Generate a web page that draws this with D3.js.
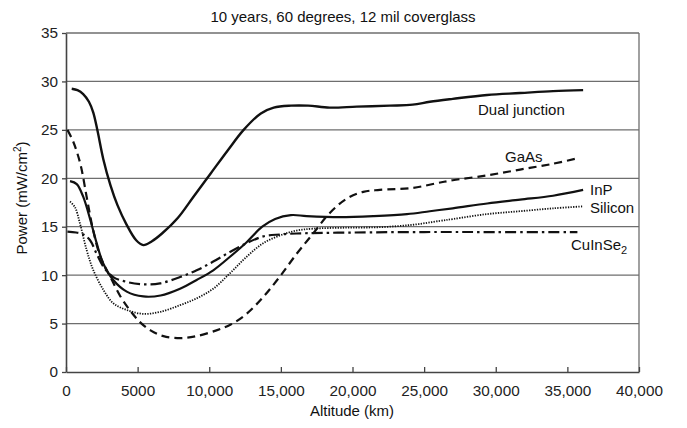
<!DOCTYPE html>
<html><head><meta charset="utf-8">
<script src="https://cdn.jsdelivr.net/npm/d3@7/dist/d3.min.js"></script>
<style>body{margin:0;background:#fff;font-family:"Liberation Sans",Arial,sans-serif;}</style>
</head><body><svg id="c" width="687" height="428"></svg>
<script>
const title = "10 years, 60 degrees, 12 mil coverglass";
const xTicks = [0,5000,10000,15000,20000,25000,30000,35000,40000];
const yTicks = [0,5,10,15,20,25,30,35];
const seriesNames = ["Dual junction","GaAs","InP","Silicon","CuInSe2"];
const dualJunction = [[400,29.25],[800,29.1],[1200,28.7],[1600,27.9],[1900,26.8],[2200,24.9],[2600,22.0],[3100,19.3],[3600,17.2],[4200,15.3],[4900,13.6],[5400,13.1],[6000,13.5],[6700,14.3],[7800,15.9],[8900,18.1],[10100,20.5],[11300,22.9],[12400,25.0],[13600,26.7],[14500,27.3],[15700,27.5],[16900,27.5],[18400,27.3],[20300,27.4],[22600,27.5],[24200,27.6],[25400,27.9],[27000,28.2],[29400,28.6],[31700,28.8],[34000,29.0],[36100,29.1]];
const gaAs = [[100,25.0],[500,23.8],[1000,21.5],[1440,18.1],[1900,14.6],[2400,11.9],[3100,9.8],[3800,7.8],[4500,6.3],[5200,5.1],[5900,4.3],[6800,3.7],[8000,3.5],[9100,3.7],[10500,4.3],[11500,4.9],[12600,6.0],[13800,7.8],[14900,9.8],[16100,12.2],[17250,14.3],[18400,16.4],[19600,17.9],[20750,18.6],[21900,18.8],[24200,19.0],[25900,19.5],[27000,19.8],[29400,20.3],[31700,20.9],[34000,21.5],[35800,22.1]];
const inP = [[280,19.7],[750,19.4],[1200,18.1],[1700,15.7],[2140,13.3],[2600,11.2],[3300,9.5],[4240,8.3],[5400,7.8],[6600,7.9],[7960,8.6],[9120,9.5],[10280,10.5],[11450,11.9],[12610,13.4],[13700,15.0],[14600,15.8],[15700,16.2],[16800,16.1],[19100,16.0],[21450,16.1],[23800,16.3],[25400,16.6],[27000,16.9],[29400,17.4],[31700,17.8],[34000,18.2],[36100,18.8]];
const silicon = [[280,17.6],[630,17.0],[980,15.3],[1440,12.6],[1910,10.5],[2600,8.5],[3300,7.1],[4240,6.4],[5400,6.0],[6560,6.2],[7960,6.9],[9120,7.6],[10280,8.6],[11450,10.2],[12610,11.9],[13770,13.3],[14940,14.1],[16100,14.6],[17260,14.8],[19500,14.9],[21900,14.95],[24200,15.2],[26100,15.6],[27040,15.8],[29370,16.3],[31690,16.6],[34020,16.9],[36100,17.1]];
const cuInSe2 = [[100,14.5],[700,14.4],[1210,14.2],[1680,13.6],[2140,12.2],[2600,10.9],[3300,9.8],[4240,9.3],[5400,9.05],[6560,9.15],[7960,9.8],[9120,10.5],[10280,11.4],[11450,12.4],[12610,13.3],[13770,14.0],[14940,14.2],[16100,14.3],[20000,14.4],[25000,14.45],[30000,14.45],[35700,14.45]];
const labelSub = "2";

const svg = d3.select("#c");
const L=66,R=639,T=33,B=372;
const x = d3.scaleLinear().domain([0,40000]).range([L,R]);
const y = d3.scaleLinear().domain([0,35]).range([B,T]);
const font = "'Liberation Sans', Arial, sans-serif";

svg.append("g").selectAll("line").data(yTicks.filter(d=>d>0)).join("line")
  .attr("x1",L).attr("x2",R).attr("y1",d=>y(d)).attr("y2",d=>y(d))
  .attr("stroke","#6e6e6e").attr("stroke-width",1.3);
svg.append("line").attr("x1",R).attr("x2",R).attr("y1",T).attr("y2",B).attr("stroke","#6e6e6e").attr("stroke-width",1.3);

const fmt = d => d===0?"0":(d<10000?String(d):d3.format(",")(d));
const xAxis = svg.append("g").attr("transform",`translate(0,${B})`)
  .call(d3.axisBottom(x).tickValues(xTicks).tickFormat(fmt).tickSizeInner(-5).tickSizeOuter(0).tickPadding(13));
const yAxis = svg.append("g").attr("transform",`translate(${L},0)`)
  .call(d3.axisLeft(y).tickValues(yTicks).tickSizeInner(4).tickSizeOuter(0).tickPadding(4));
[xAxis,yAxis].forEach(a=>{
  a.selectAll("path").attr("stroke","#444").attr("stroke-width",1.6);
  a.selectAll("line").attr("stroke","#444").attr("stroke-width",1.3);
  a.selectAll("text").attr("font-family",font).attr("font-size",15.3).attr("fill","#222");
});

const line = d3.line().x(d=>x(d[0])).y(d=>y(d[1])).curve(d3.curveCatmullRom.alpha(0.5));
const styles = [
  {data:dualJunction, dash:null, w:2.4},
  {data:gaAs, dash:"8,5", w:2.2},
  {data:inP, dash:null, w:2.2},
  {data:silicon, dash:"1.3,1.3", w:1.8},
  {data:cuInSe2, dash:"11,4,2.5,4", w:2.2}
];
styles.forEach(s=>{
  svg.append("path").attr("d",line(s.data)).attr("fill","none").attr("stroke","#111")
    .attr("stroke-width",s.w).attr("stroke-dasharray",s.dash).attr("stroke-linejoin","round");
});

const lab = (t,xx,yy)=>svg.append("text").attr("x",xx).attr("y",yy).attr("font-family",font).attr("font-size",15).attr("fill","#111").text(t);
lab(seriesNames[0],478,115);
lab(seriesNames[1],505,162);
lab(seriesNames[2],590,195);
lab(seriesNames[3],590,213);
const cu = lab("CuInSe",571,250);
cu.append("tspan").attr("font-size",11).attr("dy",4).text(labelSub);

svg.append("text").attr("x",343).attr("y",22).attr("text-anchor","middle").attr("font-family",font).attr("font-size",15).attr("fill","#111").text(title);
svg.append("text").attr("x",352).attr("y",416).attr("text-anchor","middle").attr("font-family",font).attr("font-size",15).attr("fill","#111").text("Altitude (km)");
const yt = svg.append("text").attr("transform","translate(27,198) rotate(-90)").attr("text-anchor","middle").attr("font-family",font).attr("font-size",15).attr("fill","#111").text("Power (mW/cm");
yt.append("tspan").attr("font-size",10).attr("dy",-6).text("2");
yt.append("tspan").attr("dy",6).text(")");
</script></body></html>
